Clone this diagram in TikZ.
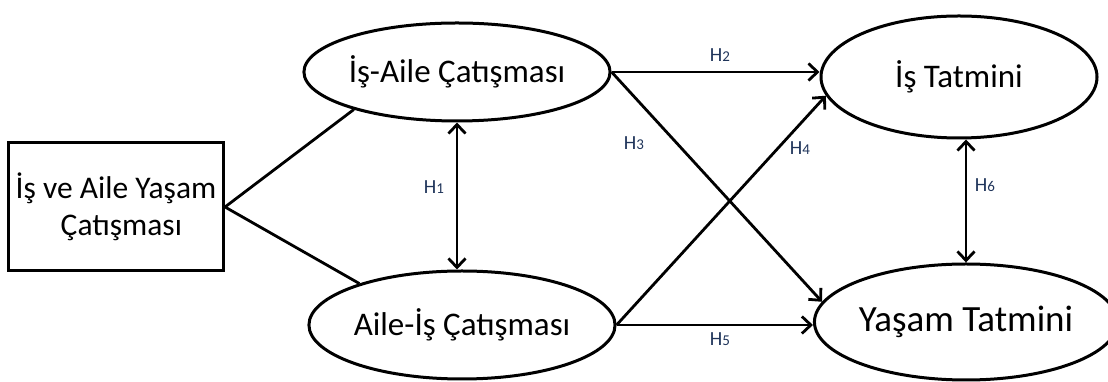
\documentclass[tikz,border=0pt]{standalone}
\usepackage{fontspec}
\setmainfont{Carlito}
\usetikzlibrary{shapes.geometric,arrows.meta,calc}
\definecolor{labcol}{RGB}{31,52,90}
\newcommand\hyp[1]{H{\fontsize{15}{15}\selectfont #1}}
\tikzset{
  ell/.style={draw, ellipse, line width=3pt, inner sep=0pt},
  boxnode/.style={draw, rectangle, line width=3pt, inner sep=0pt, align=left},
  conn/.style={line width=2.8pt},
  tip/.tip={Straight Barb[length=9pt,width=17pt,line width=2.8pt]},
  arr/.style={conn, -tip},
  dbl/.style={conn, tip-tip},
  hlab/.style={text=labcol, font=\fontsize{20}{20}\selectfont, inner sep=0pt},
  bigtxt/.style={font=\fontsize{33}{33}\selectfont},
}
\begin{document}
\begin{tikzpicture}[x=1pt,y=1pt]
\useasboundingbox (0,0) rectangle (1108,382);
\node[boxnode, minimum width=215pt, minimum height=128pt,
      font=\fontsize{31.5}{37}\selectfont] (box) at (116,175)
  {İş ve Aile Yaşam\\\hspace*{45pt}Çatışması};
\node[ell, bigtxt, minimum width=284pt, minimum height=98pt] (e1) at (457,310) {İş-Aile Çatışması};
\node[ell, bigtxt, minimum width=288pt, minimum height=108pt] (e2) at (462,57) {Aile-İş Çatışması};
\node[ell, font=\fontsize{33}{33}\selectfont, minimum width=276pt, minimum height=122pt] (e3) at (959,305) {İş Tatmini};
\node[ell, font=\fontsize{37}{37}\selectfont, minimum width=272pt, minimum height=116pt] (e4) at (966,60) {Yaşam Tatmini};
% links from box
\draw[conn] (box.east) -- (e1.200);
\draw[conn] (box.east) -- (e2.158);
% hypotheses
\draw[dbl] (e1.south) -- (e1.south |- e2.north);
\draw[arr] (e1.east) -- (e3.west |- e1.east);
\draw[arr] (e1.east) -- (e4.172);
\draw[arr] (e2.east) -- (e3.188);
\draw[arr] (e2.east) -- (e4.west |- e2.east);
\draw[dbl] (e4.north |- e3.south) -- (e4.north);
% labels
\node[hlab] (h1) at (434,195) {\hyp{1}};
\node[hlab] (h2) at (720,327) {\hyp{2}};
\node[hlab] (h3) at (634,239) {\hyp{3}};
\node[hlab] (h4) at (800,234) {\hyp{4}};
\node[hlab] (h5) at (720,43) {\hyp{5}};
\node[hlab] (h6) at (985,197) {\hyp{6}};
\end{tikzpicture}
\end{document}
